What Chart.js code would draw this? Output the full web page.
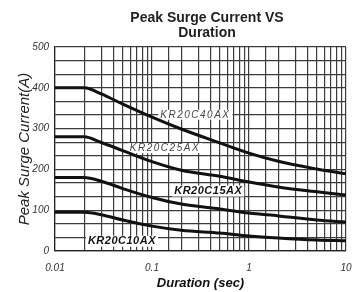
<!DOCTYPE html>
<html>
<head>
<meta charset="utf-8">
<script src="https://cdn.jsdelivr.net/npm/chart.js@4.4.1/dist/chart.umd.min.js"></script>
<style>
html, body { margin: 0; padding: 0; background: #fff; }
#wrap { width: 353px; height: 292px; }
</style>
</head>
<body>
<div id="wrap"><canvas id="surgeChart"></canvas></div>
<script>
// values
const durations = [0.01, 0.02, 0.03, 0.05, 0.1, 0.2, 0.5, 1, 2, 5, 10];
const kr40 = [400, 400, 385, 360, 328, 299, 265, 240, 220, 201, 189];
const kr25 = [280, 280, 266, 246, 219, 198, 183, 169, 157, 145, 137];
const kr15 = [180, 180, 171, 153, 131, 115, 103, 93, 86, 76, 71];
const kr10 = [95, 95, 89, 76, 61, 51, 44, 37, 32, 27, 25];
const seriesNames = ['KR20C40AX', 'KR20C25AX', 'KR20C15AX', 'KR20C10AX'];
const xTickLabels = ['0.01', '0.1', '1', '10'];
const yTickLabels = [0, 100, 200, 300, 400, 500];
const titleLines = ['Peak Surge Current VS', 'Duration'];

const gridColor = '#3c3c3c';

function toPoints(vals) {
    return durations.map((d, i) => ({ x: d, y: vals[i] }));
}

// where each curve name sits (data coords)
const curveLabels = [
    { name: seriesNames[0], x: 0.28, y: 334, bold: false, size: 10 },
    { name: seriesNames[1], x: 0.136, y: 252, bold: false, size: 10 },
    { name: seriesNames[2], x: 0.38, y: 147, bold: true, size: 11 },
    { name: seriesNames[3], x: 0.049, y: 24, bold: true, size: 11 },
];

const labelPlugin = {
    id: 'curveLabels',
    beforeDatasetsDraw(chart) {
        const ctx = chart.ctx;
        const xs = chart.scales.x, ys = chart.scales.y;
        ctx.save();
        curveLabels.forEach(l => {
            ctx.font = 'italic ' + (l.bold ? 'bold ' : '') + l.size + 'px "Liberation Sans", Arial, sans-serif';
            if ('letterSpacing' in ctx) ctx.letterSpacing = l.bold ? '0.5px' : '1.5px';
            const px = xs.getPixelForValue(l.x);
            const py = ys.getPixelForValue(l.y);
            const w = ctx.measureText(l.name).width;
            ctx.fillStyle = '#fff';
            ctx.fillRect(px - w / 2 - 2, py - l.size / 2, w + 4, l.size);
            ctx.fillStyle = l.bold ? '#111' : '#444';
            ctx.textAlign = 'center';
            ctx.textBaseline = 'middle';
            ctx.fillText(l.name, px, py);
        });
        ctx.restore();
    }
};

const titlePlugin = {
    id: 'twoLineTitle',
    afterDraw(chart) {
        const ctx = chart.ctx;
        ctx.save();
        ctx.font = 'bold 14px "Liberation Sans", Arial, sans-serif';
        ctx.fillStyle = '#222';
        ctx.textAlign = 'center';
        ctx.textBaseline = 'middle';
        ctx.fillText(titleLines[0], 207, 18);
        ctx.fillText(titleLines[1], 207, 33);
        ctx.restore();
    }
};

const ctx = document.getElementById('surgeChart');
const surgeChart = new Chart(ctx, {
    type: 'line',
    data: {
        datasets: [
            { label: seriesNames[0], data: toPoints(kr40) },
            { label: seriesNames[1], data: toPoints(kr25) },
            { label: seriesNames[2], data: toPoints(kr15) },
            { label: seriesNames[3], data: toPoints(kr10) },
        ]
    },
    options: {
        responsive: true,
        maintainAspectRatio: false,
        animation: false,
        layout: { padding: { top: 47, right: 0, left: 0, bottom: 0 } },
        elements: {
            line: { borderColor: '#111', borderWidth: 3, cubicInterpolationMode: 'monotone' },
            point: { radius: 0 }
        },
        plugins: {
            legend: { display: false },
            tooltip: { enabled: false }
        },
        scales: {
            x: {
                type: 'logarithmic',
                min: 0.01,
                max: 10,
                border: { color: '#222', width: 1.2 },
                grid: { color: gridColor, lineWidth: 1.2, drawTicks: false },
                ticks: {
                    autoSkip: false,
                    maxRotation: 0,
                    padding: 11,
                    color: '#333',
                    font: { family: '"Liberation Sans", Arial', size: 10, style: 'italic' },
                    callback: (v) => {
                        const lg = Math.log10(v);
                        if (Math.abs(lg - Math.round(lg)) > 1e-6) return '';
                        return xTickLabels[Math.round(lg) + 2] || '';
                    }
                },
                title: {
                    display: true,
                    text: 'Duration (sec)',
                    color: '#111',
                    padding: { top: 0, bottom: 1 },
                    font: { family: '"Liberation Sans", Arial', size: 13, style: 'italic', weight: 'bold' }
                },
                afterFit: (s) => {
                    s.height = 41;
                    s.paddingLeft = 0;
                    s.paddingRight = 7;
                }
            },
            y: {
                min: 0,
                max: 500,
                border: { color: '#222', width: 1.2 },
                grid: { color: gridColor, lineWidth: 1.2, drawTicks: false },
                afterBuildTicks: (s) => {
                    const t = [];
                    for (let i = 0; i <= 15; i++) t.push({ value: i * 100 / 3 });
                    s.ticks = t;
                },
                ticks: {
                    autoSkip: false,
                    padding: 6,
                    color: '#333',
                    font: { family: '"Liberation Sans", Arial', size: 10, style: 'italic' },
                    callback: (v) => {
                        const hit = yTickLabels.find(l => Math.abs(l - v) < 1e-6);
                        return hit === undefined ? '' : String(hit);
                    }
                },
                title: {
                    display: true,
                    text: 'Peak Surge Current(A)',
                    color: '#222',
                    padding: { top: 16, bottom: 0 },
                    font: { family: '"Liberation Sans", Arial', size: 15, style: 'italic' }
                },
                afterFit: (s) => {
                    s.width = 55;
                    s.paddingTop = 0;
                    s.paddingBottom = 0;
                }
            }
        }
    },
    plugins: [labelPlugin, titlePlugin]
});
</script>
</body>
</html>
